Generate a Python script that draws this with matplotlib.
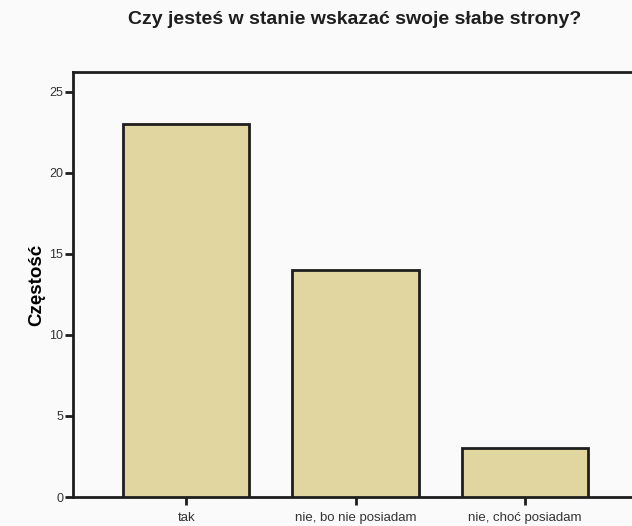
import numpy as np
import matplotlib
matplotlib.use("Agg")
import matplotlib.pyplot as plt

plt.rcParams['font.family'] = ['Liberation Sans', 'DejaVu Sans']

# data
categories = ['tak', 'nie, bo nie posiadam', 'nie, choć posiadam']
counts = [23, 14, 3]
yticks = [0, 5, 10, 15, 20, 25]

bg = '#fafafa'
fig = plt.figure(figsize=(6.32, 5.26), dpi=100, facecolor=bg)
ax = fig.add_axes([73 / 632, 29 / 526, (638 - 73) / 632, (497 - 72) / 526])
ax.set_facecolor(bg)

x = np.arange(len(categories))
ax.bar(x, counts, width=0.746, color='#e2d6a0', edgecolor='#1e1e1e', linewidth=2, zorder=3)

ax.set_xlim(-0.67, 2.67)
ax.set_ylim(0, 26.23)
ax.set_xticks(x)
ax.set_xticklabels(categories, fontsize=9.5, color='#333333')
ax.set_yticks(yticks)
ax.set_yticklabels([str(v) for v in yticks], fontsize=9, color='#333333')

for s in ax.spines.values():
    s.set_linewidth(2)
    s.set_color('#1e1e1e')
ax.tick_params(axis='both', direction='out', length=6, width=2, color='#1e1e1e')
ax.tick_params(axis='x', pad=5)
ax.tick_params(axis='y', pad=1)

ax.set_ylabel('Częstość', fontsize=13.5, fontweight='bold', labelpad=3)

fig.text(355 / 632, 1 - 20 / 526, 'Czy jesteś w stanie wskazać swoje słabe strony?',
         ha='center', va='center', fontsize=14, fontweight='bold', color='#1e1e1e')

plt.savefig('out.png', dpi=100, facecolor=bg)
